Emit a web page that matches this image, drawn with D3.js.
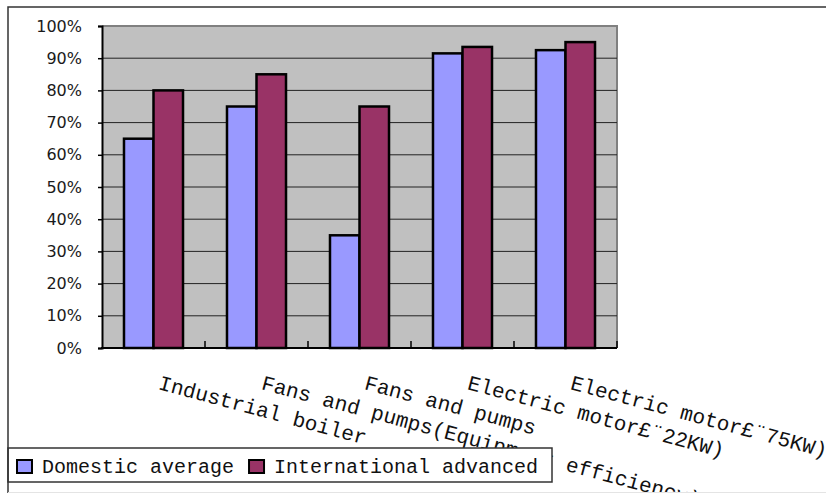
<!DOCTYPE html>
<html>
<head>
<meta charset="utf-8">
<script src="https://cdn.jsdelivr.net/npm/d3@7/dist/d3.min.js"></script>
<style>
  html, body { margin: 0; padding: 0; background: #fff; }
  svg { display: block; }
</style>
</head>
<body>
<svg id="chart" width="826" height="493"></svg>
<script>
// Energy efficiency: domestic average vs. international advanced level
const categories = [
  "Industrial boiler",
  "Fans and pumps(Equipment efficiency)",
  "Fans and pumps",
  "Electric motor£¨22KW)",
  "Electric motor£¨75KW)"
];
const seriesNames = ["Domestic average", "International advanced"];
const domesticValues = [65, 75, 35, 91.5, 92.5];
const internationalValues = [80, 85, 75, 93.5, 95];
const yTicks = [0, 10, 20, 30, 40, 50, 60, 70, 80, 90, 100];
const seriesColors = ["#9999FF", "#993366"];

const svg = d3.select("#chart");
const W = 826, H = 493;

// Chart frame
const frame = { left: 8, top: 7, bottom: 492 };
// Plot area
const plot = { left: 102, right: 617, top: 26, bottom: 348 };

const seriesValues = [domesticValues, internationalValues];

const x0 = d3.scaleBand().domain(categories).range([plot.left, plot.right]).padding(0);
const groupWidth = x0.bandwidth() * 0.573;
const x1 = d3.scaleBand().domain(seriesNames).range([0, groupWidth]).padding(0);
const y = d3.scaleLinear().domain([0, 100]).range([plot.bottom, plot.top]);

svg.append("clipPath").attr("id", "frameClip")
  .append("rect")
  .attr("x", frame.left).attr("y", frame.top)
  .attr("width", W - frame.left).attr("height", frame.bottom - frame.top);

// Plot background
svg.append("rect")
  .attr("x", plot.left).attr("y", plot.top)
  .attr("width", plot.right - plot.left).attr("height", plot.bottom - plot.top)
  .attr("fill", "#C0C0C0");

// Top and right edges of the plot area
svg.append("path")
  .attr("d", `M${plot.left},${plot.top}H${plot.right}V${plot.bottom}`)
  .attr("fill", "none").attr("stroke", "#808080").attr("stroke-width", 2);

// Horizontal gridlines
svg.append("g")
  .selectAll("line")
  .data(yTicks.filter(t => t > 0 && t < 100))
  .join("line")
  .attr("x1", plot.left).attr("x2", plot.right)
  .attr("y1", d => y(d)).attr("y2", d => y(d))
  .attr("stroke", "#222").attr("stroke-width", 1);

// Y axis
const yAxis = d3.axisLeft(y).tickValues(yTicks).tickFormat(d => d + "%").tickSizeOuter(0).tickSize(4).tickPadding(16);
const gy = svg.append("g").attr("transform", `translate(${plot.left},0)`).call(yAxis);
gy.select(".domain").attr("stroke", "#000").attr("stroke-width", 2);
gy.selectAll(".tick line").attr("stroke", "#000").attr("stroke-width", 1.5);
gy.selectAll(".tick text")
  .attr("font-family", "'DejaVu Sans', sans-serif")
  .attr("font-size", 16).attr("fill", "#1a1a1a");

// Bars
const groups = svg.append("g")
  .selectAll("g")
  .data(categories)
  .join("g")
  .attr("transform", d => `translate(${x0(d) + (x0.bandwidth() - groupWidth) / 2},0)`);

groups.selectAll("rect")
  .data((d, i) => seriesNames.map((s, k) => ({ s, k, v: seriesValues[k][i] })))
  .join("rect")
  .attr("x", d => x1(d.s))
  .attr("y", d => y(d.v))
  .attr("width", x1.bandwidth())
  .attr("height", d => y(0) - y(d.v))
  .attr("fill", d => seriesColors[d.k])
  .attr("stroke", "#000").attr("stroke-width", 2.5);

// X axis with inward ticks at category boundaries
svg.append("line")
  .attr("x1", plot.left - 1).attr("x2", plot.right)
  .attr("y1", plot.bottom).attr("y2", plot.bottom)
  .attr("stroke", "#000").attr("stroke-width", 2);
const boundaries = categories.map(c => x0(c)).concat([plot.right]).slice(1);
svg.append("g").selectAll("line")
  .data(boundaries)
  .join("line")
  .attr("x1", d => d).attr("x2", d => d)
  .attr("y1", plot.bottom).attr("y2", plot.bottom - 7)
  .attr("stroke", "#000").attr("stroke-width", 1.5);

// Rotated category labels
const labelLayer = svg.append("g").attr("clip-path", "url(#frameClip)");
labelLayer.selectAll("text")
  .data(categories)
  .join("text")
  .attr("transform", d => {
    const cx = x0(d) + x0.bandwidth() / 2 + 4;
    return `translate(${cx},389) rotate(15)`;
  })
  .attr("font-family", "'Liberation Mono', 'Courier New', monospace")
  .attr("font-size", 21)
  .attr("fill", "#111")
  .text(d => d);

// Legend
const legend = svg.append("g");
legend.append("rect")
  .attr("x", frame.left).attr("y", 448)
  .attr("width", 544).attr("height", 34)
  .attr("fill", "#fff").attr("stroke", "#333").attr("stroke-width", 1.5);

let lx = 17;
seriesNames.forEach((name, k) => {
  legend.append("rect")
    .attr("x", lx).attr("y", 460)
    .attr("width", 15).attr("height", 13)
    .attr("fill", seriesColors[k]).attr("stroke", "#000").attr("stroke-width", 2);
  const t = legend.append("text")
    .attr("x", lx + 25).attr("y", 473)
    .attr("font-family", "'Liberation Mono', 'Courier New', monospace")
    .attr("font-size", 20).attr("fill", "#111")
    .text(name);
  lx += 25 + t.node().getComputedTextLength() + 15;
});

// Outer frame
svg.append("path")
  .attr("d", `M${frame.left},${H}V${frame.top}H${W}`)
  .attr("fill", "none").attr("stroke", "#333").attr("stroke-width", 1.5);
svg.append("line")
  .attr("x1", frame.left).attr("x2", W)
  .attr("y1", frame.bottom + 0.5).attr("y2", frame.bottom + 0.5)
  .attr("stroke", "#e4e4e4").attr("stroke-width", 1);
</script>
</body>
</html>
